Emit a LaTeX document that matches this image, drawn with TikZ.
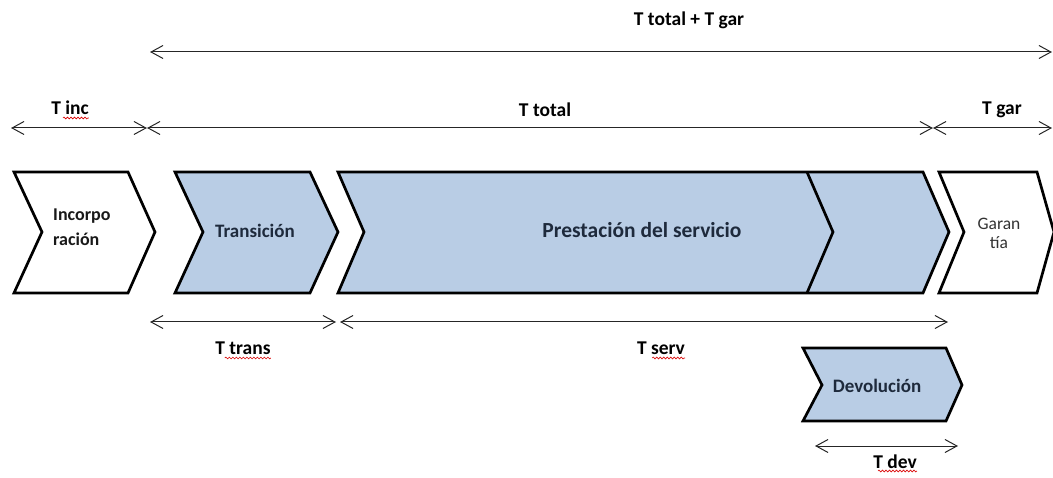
\documentclass[tikz,border=0pt]{standalone}
\usepackage{fontspec}
\setmainfont{Carlito}
\usepackage{tikz}
\usetikzlibrary{arrows.meta, positioning}
\usetikzlibrary{decorations.pathmorphing}

\definecolor{azul}{HTML}{B9CDE5}
\definecolor{tinta}{HTML}{1E2A3C}

\begin{document}
\begin{tikzpicture}[x=1pt, y=-1pt,
  fase/.style={draw=black, line width=2.7pt, fill=white},
  fase azul/.style={fase, fill=azul},
  corte/.style={draw=black, line width=2.7pt},
  cota/.style={{Straight Barb[length=12pt,width=13pt]}-{Straight Barb[length=12pt,width=13pt]}, line width=1pt, black!85},
  rotulo/.style={inner sep=0pt, anchor=base, font=\bfseries\fontsize{19.5}{22}\selectfont},
  texto/.style={inner sep=0pt, anchor=base, text=tinta, font=\bfseries\fontsize{19}{21}\selectfont},
  ondas/.style={red!85!black, line width=0.6pt, decorate, decoration={snake, amplitude=0.9pt, segment length=3.5pt}}]

  \useasboundingbox (0,0) rectangle (1053,478);
  \clip (0,0) rectangle (1053,478);

  % fases
  \draw[fase] (14,172) -- (128,172) -- (155,232) -- (128,293) -- (14,293) -- (42,232) -- cycle;
  \draw[fase azul] (175,172) -- (310,172) -- (338,232) -- (310,293) -- (175,293) -- (203,232) -- cycle;
  \draw[fase azul] (338,172) -- (923,172) -- (949,232) -- (923,293) -- (338,293) -- (364,232) -- cycle;
  \draw[corte] (807,172) -- (833,232) -- (807,293);
  \draw[fase] (939,172) -- (1037,172) -- (1054,232) -- (1037,293) -- (939,293) -- (964,232) -- cycle;
  \draw[fase azul] (803,348) -- (946,348) -- (962,385) -- (946,421) -- (803,421) -- (822,385) -- cycle;

  \node[texto, text=black!90, anchor=west, align=left,
    font=\bfseries\fontsize{18}{25}\selectfont] (incorp) at (53,227) {Incorpo\\ración};
  \node[texto] (trans) at (255,238) {Transición};
  \node[texto, font=\bfseries\fontsize{21.5}{24}\selectfont] (prest) at (642,238) {Prestación del servicio};
  \node[texto, text=black!80, anchor=center, align=center,
    font=\fontsize{17.5}{19}\selectfont] (garan) at (999,233) {Garan\\tía};
  \node[texto] (devol) at (877,392) {Devolución};

  % cotas
  \coordinate (a0) at (150,52);
  \coordinate (a1) at (1052,52);
  \draw[cota] (a0) -- (a1);
  \node[rotulo] (ttg) at (689,26) {T total + T gar};

  \coordinate (m0) at (11,128);
  \coordinate (m1) at (147,128);
  \coordinate (m2) at (933,128);
  \coordinate (m3) at (1052,128);
  \draw[cota] (m0) -- (m1);
  \draw[cota] (m1) -- (m2);
  \draw[cota] (m2) -- (m3);
  \node[rotulo] (tinc) at (70,115) {T inc};
  \node[rotulo] (ttot) at (545,117) {T total};
  \node[rotulo] (tgar) at (1002,115) {T gar};

  \coordinate (b0) at (150,322);
  \coordinate (b1) at (336,322);
  \coordinate (b2) at (340,322);
  \coordinate (b3) at (948,322);
  \draw[cota] (b0) -- (b1);
  \draw[cota] (b2) -- (b3);
  \node[rotulo] (ttrans) at (243,355) {T trans};
  \node[rotulo] (tserv) at (661,355) {T serv};

  \coordinate (d0) at (815,446);
  \coordinate (d1) at (958,446);
  \draw[cota] (d0) -- (d1);
  \node[rotulo] (tdev) at (895,468) {T dev};

  % subrayado ortografico
  \draw[ondas] ([xshift=-26pt,yshift=-3pt]tinc.base east) -- ([yshift=-3pt]tinc.base east);
  \draw[ondas] ([xshift=-46pt,yshift=-3pt]ttrans.base east) -- ([yshift=-3pt]ttrans.base east);
  \draw[ondas] ([xshift=-33pt,yshift=-3pt]tserv.base east) -- ([yshift=-3pt]tserv.base east);
  \draw[ondas] ([xshift=-39pt,yshift=-3pt]tdev.base east) -- ([yshift=-3pt]tdev.base east);
\end{tikzpicture}
\end{document}
